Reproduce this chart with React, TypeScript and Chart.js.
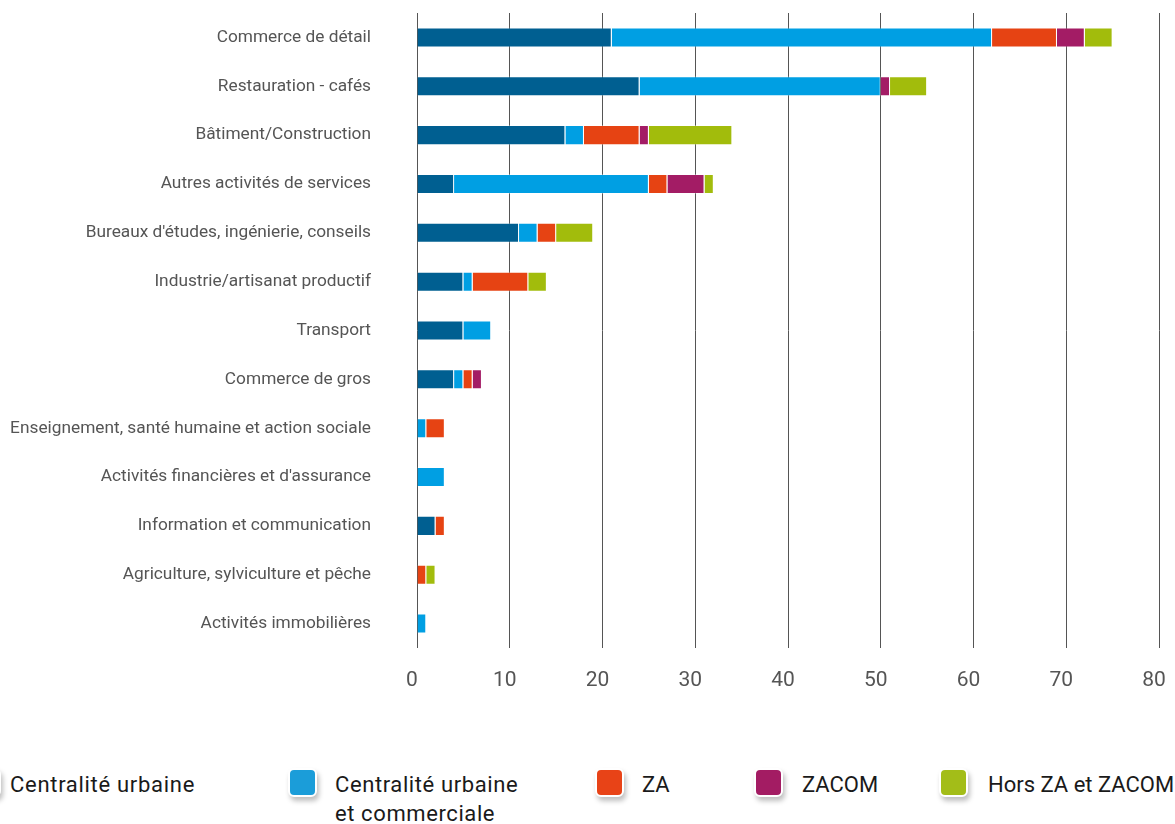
import React, { useEffect, useRef } from "react";
import { Chart, registerables } from "chart.js";

Chart.register(...registerables);

const categories = [
  "Commerce de détail",
  "Restauration - cafés",
  "Bâtiment/Construction",
  "Autres activités de services",
  "Bureaux d'études, ingénierie, conseils",
  "Industrie/artisanat productif",
  "Transport",
  "Commerce de gros",
  "Enseignement, santé humaine et action sociale",
  "Activités financières et d'assurance",
  "Information et communication",
  "Agriculture, sylviculture et pêche",
  "Activités immobilières",
];

const centraliteUrbaine = [21, 24, 16, 4, 11, 5, 5, 4, 0, 0, 2, 0, 0];
const centraliteUrbaineCommerciale = [41, 26, 2, 21, 2, 1, 3, 1, 1, 3, 0, 0, 1];
const za = [7, 0, 6, 2, 2, 6, 0, 1, 2, 0, 1, 1, 0];
const zacom = [3, 1, 1, 4, 0, 0, 0, 1, 0, 0, 0, 0, 0];
const horsZaZacom = [3, 4, 9, 1, 4, 2, 0, 0, 0, 0, 0, 1, 0];

const xTicks = [0, 10, 20, 30, 40, 50, 60, 70, 80];

const seriesNames = [
  "Centralité urbaine",
  "Centralité urbaine\net commerciale",
  "ZA",
  "ZACOM",
  "Hors ZA et ZACOM",
];
const seriesColors = ["#005f91", "#009fe3", "#e64313", "#a31c65", "#a2bc0c"];
const legendColors = ["#005f91", "#1b9dd9", "#e84317", "#a31c63", "#a3bd18"];

// legend item x positions (square left, text left, letter spacing)
const legendLayout = [
  { sq: -28, tx: 10, ls: 0.7 },
  { sq: 288, tx: 335, ls: 0.6 },
  { sq: 595, tx: 642, ls: 0 },
  { sq: 754, tx: 802, ls: 0 },
  { sq: 939, tx: 988, ls: 0 },
];

export default function App() {
  const ref = useRef<HTMLCanvasElement | null>(null);

  useEffect(() => {
    if (!ref.current) return;
    const values = [centraliteUrbaine, centraliteUrbaineCommerciale, za, zacom, horsZaZacom];
    const chart = new Chart(ref.current, {
      type: "bar",
      data: {
        labels: categories,
        datasets: values.map((v, i) => ({
          label: seriesNames[i],
          data: v,
          backgroundColor: seriesColors[i],
          borderColor: "rgba(255,255,255,0.3)",
          borderWidth: 1,
          categoryPercentage: 1,
          barPercentage: 0.41,
        })),
      },
      options: {
        indexAxis: "y",
        responsive: false,
        animation: false,
        layout: { padding: { left: 0, right: 16, top: 13, bottom: 0 } },
        plugins: {
          legend: { display: false },
          tooltip: { enabled: false },
        },
        scales: {
          x: {
            stacked: true,
            min: 0,
            max: 80,
            afterFit: (s: any) => {
              s.height = 92;
              s.paddingLeft = 0;
              s.paddingRight = 0;
            },
            afterBuildTicks: (s: any) => {
              s.ticks = xTicks.map((v) => ({ value: v }));
            },
            grid: { color: "#555", lineWidth: 1, drawTicks: false },
            border: { display: false },
            ticks: {
              padding: 20,
              labelOffset: -5,
              color: "#555",
              font: { family: "Roboto", size: 21 },
            },
          },
          y: {
            stacked: true,
            afterFit: (s: any) => {
              s.width = 417;
              s.paddingTop = 0;
              s.paddingBottom = 0;
            },
            grid: { display: false, drawTicks: false },
            border: { display: false },
            ticks: {
              padding: 46,
              color: "#555",
              font: { family: "Roboto", size: 17.3 },
            },
          },
        },
      },
    });
    return () => chart.destroy();
  }, []);

  return (
    <div
      style={{
        position: "absolute",
        left: 0,
        top: 0,
        width: 1175,
        height: 824,
        overflow: "hidden",
        background: "#fff",
        fontFamily: "Roboto",
      }}
    >
      <canvas ref={ref} width={1175} height={740} style={{ display: "block" }} />
      {seriesNames.map((name, i) => (
        <React.Fragment key={i}>
          <div
            style={{
              position: "absolute",
              left: legendLayout[i].sq,
              top: 768,
              width: 25,
              height: 25,
              background: legendColors[i],
              border: "2px solid #fff",
              borderRadius: 6,
              boxShadow: "2px 4px 5px rgba(0,0,0,0.25)",
            }}
          />
          <div
            style={{
              position: "absolute",
              left: legendLayout[i].tx,
              top: 770,
              fontSize: 22,
              lineHeight: "29px",
              letterSpacing: legendLayout[i].ls,
              color: "#1a1a1a",
              whiteSpace: "pre",
            }}
          >
            {name}
          </div>
        </React.Fragment>
      ))}
    </div>
  );
}
